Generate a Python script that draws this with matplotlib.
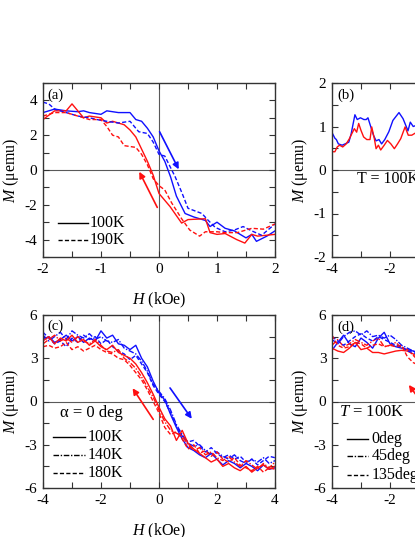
import numpy as np
import matplotlib
matplotlib.use("Agg")
import matplotlib.pyplot as plt
from matplotlib.ticker import MultipleLocator

plt.rcParams['font.family'] = ['Liberation Serif', 'DejaVu Serif']
plt.rcParams['mathtext.fontset'] = 'custom'
plt.rcParams['mathtext.rm'] = 'Liberation Serif'
plt.rcParams['mathtext.it'] = 'Liberation Serif:italic'
plt.rcParams['axes.unicode_minus'] = False

# ------------ data ------------

# panel (a): T = 100K (solid) and 190K (dashed)
a_H_blue_100 = [-2.0, -1.8, -1.6, -1.4, -1.3, -1.2, -1.0, -0.9, -0.7, -0.5, -0.4, -0.3, -0.2, -0.1,
                0.0, 0.1, 0.2, 0.3, 0.45, 0.6, 0.8, 0.88, 1.0, 1.14, 1.3, 1.5, 1.6, 1.68, 1.86, 2.0]
a_M_blue_100 = [3.3, 3.5, 3.4, 3.35, 3.4, 3.3, 3.2, 3.4, 3.3, 3.3, 2.9, 2.8, 2.4, 1.9,
                1.1, 0.5, -0.4, -1.5, -2.5, -2.7, -2.9, -3.25, -3.0, -3.35, -3.5, -3.9, -3.7, -4.1, -3.8, -3.5]
a_H_red_100 = [-2.0, -1.8, -1.6, -1.5, -1.3, -1.2, -1.0, -0.9, -0.8, -0.6, -0.5, -0.4, -0.3, -0.2,
               -0.1, 0.0, 0.19, 0.39, 0.5, 0.8, 0.88, 1.0, 1.14, 1.34, 1.48, 1.6, 1.7, 2.0]
a_M_red_100 = [2.9, 3.4, 3.4, 3.8, 3.0, 3.1, 3.0, 2.7, 2.8, 2.6, 2.3, 1.9, 1.2, 0.5,
               -0.3, -1.35, -2.1, -3.05, -2.85, -2.8, -3.6, -3.7, -3.65, -4.0, -4.2, -3.7, -3.8, -3.7]
a_H_blue_190 = [-2.0, -1.9, -1.8, -1.6, -1.4, -1.2, -1.0, -0.9, -0.7, -0.5, -0.35, -0.2, -0.1, 0.0,
                0.1, 0.28, 0.4, 0.5, 0.74, 0.85, 0.97, 1.14, 1.3, 1.45, 1.6, 1.77, 2.0]
a_M_blue_190 = [3.9, 3.8, 3.5, 3.3, 3.1, 3.0, 2.85, 2.8, 2.7, 2.8, 2.2, 2.1, 1.6, 0.9,
                0.8, -0.4, -1.35, -2.2, -2.5, -2.9, -3.3, -3.55, -3.45, -3.25, -3.5, -3.75, -3.1]
a_H_red_190 = [-2.0, -1.8, -1.6, -1.4, -1.2, -1.0, -0.9, -0.8, -0.7, -0.6, -0.4, -0.3, -0.2, -0.1,
               0.0, 0.1, 0.22, 0.39, 0.53, 0.7, 0.8, 1.0, 1.14, 1.35, 1.6, 1.8, 2.0]
a_M_red_190 = [3.1, 3.3, 3.3, 3.1, 2.9, 2.9, 2.5, 2.0, 1.9, 1.4, 1.3, 0.9, 0.3, -0.5,
               -0.9, -1.15, -1.9, -2.8, -3.45, -3.8, -3.55, -3.55, -3.6, -3.6, -3.35, -3.4, -3.1]

# panel (b): T = 100K
b_H_blue = [-4.0, -3.9, -3.85, -3.78, -3.65, -3.55, -3.42, -3.34, -3.21, -3.13, -3.02, -2.9, -2.82, -2.76,
            -2.68, -2.57, -2.48, -2.38, -2.29, -2.18, -2.04, -1.9, -1.69, -1.55, -1.38, -1.3, -1.2, -1.0]
b_M_blue = [0.86, 0.73, 0.7, 0.6, 0.57, 0.6, 0.64, 0.83, 1.27, 1.16, 1.2, 1.16, 1.16, 1.2,
            1.03, 0.8, 0.67, 0.7, 0.6, 0.7, 0.88, 1.14, 1.32, 1.18, 0.9, 1.1, 1.0, 1.05]
b_H_red = [-4.0, -3.9, -3.82, -3.74, -3.63, -3.51, -3.4, -3.32, -3.23, -3.15, -3.08, -3.0, -2.91, -2.8, -2.69,
           -2.63, -2.54, -2.48, -2.4, -2.32, -2.2, -2.09, -1.97, -1.85, -1.74, -1.63, -1.48, -1.37, -1.25, -1.0]
b_M_red = [0.42, 0.42, 0.53, 0.57, 0.53, 0.6, 0.72, 0.83, 0.95, 0.87, 1.07, 0.91, 0.76, 0.7, 0.7,
           0.99, 0.72, 0.49, 0.57, 0.46, 0.57, 0.68, 0.6, 0.49, 0.6, 0.72, 0.99, 0.8, 0.8, 0.9]

# panel (c): alpha = 0 deg, 100K / 140K / 180K
c_H = [-4.0, -3.8, -3.6, -3.4, -3.2, -3.0, -2.8, -2.6, -2.4, -2.2, -2.0, -1.8, -1.6, -1.4,
       -1.2, -1.0, -0.8, -0.6, -0.4, -0.2, 0.0, 0.2, 0.4, 0.6, 0.8, 1.0, 1.2, 1.4, 1.6, 1.8,
       2.0, 2.2, 2.4, 2.6, 2.8, 3.0, 3.2, 3.4, 3.6, 3.8, 4.0]
c_blue_100 = [4.3, 4.5, 4.1, 4.3, 4.6, 4.2, 4.5, 4.1, 4.4, 4.2, 4.9, 4.4, 4.6, 4.0,
              3.9, 3.6, 3.9, 3.0, 2.4, 1.4, 0.6, 0.1, -0.9, -1.8, -2.6, -3.2, -3.4, -3.7, -3.9, -3.6,
              -4.0, -4.4, -4.1, -4.3, -4.6, -4.3, -4.5, -4.8, -4.4, -4.7, -4.6]
c_blue_140 = [4.6, 4.2, 4.5, 4.8, 4.3, 4.9, 4.6, 4.4, 4.7, 4.3, 4.5, 4.2, 4.1, 4.3,
              3.7, 3.5, 3.3, 2.8, 2.1, 1.2, 0.7, 0.2, -0.6, -1.6, -2.3, -2.9, -3.1, -3.0, -3.4, -3.7,
              -3.5, -3.8, -4.0, -3.7, -4.1, -4.3, -4.0, -4.2, -3.9, -4.3, -4.1]
c_blue_180 = [4.8, 4.4, 4.0, 4.2, 3.8, 4.4, 4.1, 4.6, 4.3, 4.5, 4.0, 4.3, 3.8, 3.5,
              3.3, 2.9, 3.2, 2.6, 2.0, 1.1, 0.5, 0.0, -0.8, -1.7, -2.4, -2.8, -2.7, -3.1, -3.5, -3.2,
              -3.6, -3.9, -3.7, -4.0, -3.8, -4.2, -4.0, -4.4, -4.1, -3.8, -3.9]
c_red_100 = [4.2, 4.5, 4.0, 4.4, 4.2, 4.6, 4.1, 4.3, 3.9, 4.2, 3.8, 3.6, 3.9, 3.4,
             3.2, 3.0, 2.6, 2.0, 1.3, 0.5, -0.4, -1.2, -1.7, -2.7, -2.0, -2.9, -3.3, -3.6, -3.9, -4.2,
             -4.0, -4.5, -4.3, -4.6, -4.8, -4.5, -4.9, -4.6, -4.4, -4.7, -4.5]
c_red_140 = [4.0, 4.3, 4.6, 4.2, 4.4, 4.1, 4.5, 4.2, 4.0, 4.3, 3.9, 3.5, 3.4, 3.6,
             3.0, 2.7, 2.3, 1.7, 1.0, 0.3, -0.6, -1.4, -2.0, -2.2, -2.4, -3.0, -3.4, -3.2, -3.7, -3.5,
             -3.9, -4.1, -3.8, -4.2, -4.5, -4.1, -4.4, -4.7, -4.3, -4.6, -4.2]
c_red_180 = [3.8, 3.9, 3.7, 3.8, 4.1, 3.6, 3.8, 3.5, 3.7, 3.9, 3.6, 3.4, 3.3, 3.0,
             2.9, 2.5, 2.0, 1.5, 0.8, 0.0, -0.8, -1.8, -2.3, -2.1, -2.6, -3.3, -3.0, -3.6, -3.4, -3.8,
             -3.5, -4.0, -4.2, -3.9, -4.4, -4.6, -4.8, -4.5, -4.9, -4.6, -4.7]

# panel (d): T = 100K, 0 / 45 / 135 deg (only the left part is visible)
d_H = [-4.0, -3.8, -3.6, -3.4, -3.2, -3.0, -2.8, -2.6, -2.4, -2.2, -2.0, -1.8, -1.6, -1.4, -1.2, -1.0]
d_blue_0 = [3.55, 4.1, 4.6, 4.0, 3.8, 4.4, 4.1, 3.7, 4.4, 4.8, 4.0, 3.8, 3.7, 3.6, 3.5, 3.3]
d_red_0 = [3.7, 3.5, 3.4, 3.7, 4.1, 3.6, 3.7, 3.4, 3.4, 3.3, 3.4, 3.5, 3.55, 3.5, 3.3, 3.0]
d_blue_45 = [4.3, 4.0, 4.5, 4.8, 4.9, 4.6, 4.9, 4.5, 4.6, 4.4, 4.6, 4.3, 3.9, 3.7, 3.5, 3.4]
d_red_45 = [3.9, 4.3, 3.8, 4.0, 4.3, 4.1, 3.9, 4.2, 4.4, 3.8, 3.9, 4.1, 3.7, 3.6, 3.2, 2.8]
d_blue_135 = [4.5, 4.2, 3.9, 4.2, 4.5, 4.7, 4.4, 4.2, 4.5, 4.3, 4.1, 3.9, 3.8, 3.5, 3.4, 3.2]
d_red_135 = [4.6, 3.9, 3.7, 3.8, 4.1, 4.0, 3.7, 3.9, 4.0, 3.8, 3.9, 3.8, 3.9, 3.1, 2.7, 2.5]

# ------------ styling helpers ------------

BLUE = '#1010ff'
RED = '#ff1010'
DASH = (0, (3, 1.6))
DASHDOT = (0, (4, 1.2, 1, 1.2))
LW = 1.0
FS = 10.5


def style_axes(ax, xlim, ylim, xmaj, xmin, ymaj, ymin):
    ax.set_xlim(*xlim)
    ax.set_ylim(*ylim)
    ax.xaxis.set_major_locator(MultipleLocator(xmaj))
    ax.xaxis.set_minor_locator(MultipleLocator(xmin))
    ax.yaxis.set_major_locator(MultipleLocator(ymaj))
    ax.yaxis.set_minor_locator(MultipleLocator(ymin))
    ax.tick_params(which='both', direction='in', top=True, right=True,
                   labelsize=FS + 0.5, color='0.2', width=0.8)
    ax.tick_params(which='major', length=4.5, pad=4)
    ax.tick_params(which='minor', length=4.5)
    for s in ax.spines.values():
        s.set_linewidth(1.0)
        s.set_color('0.2')
    ax.axhline(0, color='0.35', lw=0.8, zorder=1)
    ax.axvline(0, color='0.35', lw=0.8, zorder=1)
    ax.set_xlabel('$H$ (kOe)', fontsize=11.5, labelpad=11)
    ax.set_ylabel('$M$ (\u03bcemu)', fontsize=11.5, labelpad=3)


def arrow(ax, start, end, color):
    ax.annotate('', xy=end, xytext=start,
                arrowprops=dict(arrowstyle='-|>', color=color, lw=1.2,
                                mutation_scale=9, shrinkA=0, shrinkB=0))


fig = plt.figure(figsize=(4.15, 5.37), dpi=100)
W = 232 / 415
ax_a = fig.add_axes([43 / 415, 280 / 537, W, 174 / 537])
ax_b = fig.add_axes([332 / 415, 280 / 537, W, 174 / 537])
ax_c = fig.add_axes([43 / 415, 49 / 537, W, 173 / 537])
ax_d = fig.add_axes([332 / 415, 49 / 537, W, 173 / 537])

# ------------ panel (a) ------------
ax = ax_a
style_axes(ax, (-2, 2), (-5, 5), 1, 0.5, 2, 1)
ax.plot(a_H_blue_100, a_M_blue_100, color=BLUE, lw=LW)
ax.plot(a_H_red_100, a_M_red_100, color=RED, lw=LW)
ax.plot(a_H_blue_190, a_M_blue_190, color=BLUE, lw=LW, linestyle=DASH)
ax.plot(a_H_red_190, a_M_red_190, color=RED, lw=LW, linestyle=DASH)
arrow(ax, (0.01, 2.2), (0.34, 0.04), BLUE)
arrow(ax, (-0.03, -2.15), (-0.34, -0.1), RED)
ax.plot([-1.74, -1.22], [-3.04, -3.04], color='k', lw=LW)
ax.plot([-1.74, -1.22], [-4.04, -4.04], color='k', lw=LW, linestyle=DASH)
ax.text(-1.19, -3.04, '100K', fontsize=FS + 1, va='center')
ax.text(-1.19, -4.04, '190K', fontsize=FS + 1, va='center')
ax.text(-1.92, 4.3, '(a)', fontsize=FS, va='center')

# ------------ panel (b) ------------
ax = ax_b
style_axes(ax, (-4, 4), (-2, 2), 2, 1, 1, 0.5)
ax.plot(b_H_blue, b_M_blue, color=BLUE, lw=LW)
ax.plot(b_H_red, b_M_red, color=RED, lw=LW)
ax.text(-3.14, -0.2, 'T = 100K', fontsize=FS + 1, va='center')
ax.text(-3.82, 1.72, '(b)', fontsize=FS, va='center')

# ------------ panel (c) ------------
ax = ax_c
style_axes(ax, (-4, 4), (-6, 6), 2, 1, 3, 1.5)
ax.plot(c_H, c_blue_100, color=BLUE, lw=LW)
ax.plot(c_H, c_blue_140, color=BLUE, lw=LW, linestyle=DASHDOT)
ax.plot(c_H, c_blue_180, color=BLUE, lw=LW, linestyle=DASH)
ax.plot(c_H, c_red_100, color=RED, lw=LW)
ax.plot(c_H, c_red_140, color=RED, lw=LW, linestyle=DASHDOT)
ax.plot(c_H, c_red_180, color=RED, lw=LW, linestyle=DASH)
arrow(ax, (0.38, 0.94), (1.13, -1.2), BLUE)
arrow(ax, (-0.2, -1.24), (-0.91, 0.92), RED)
ax.text(-3.41, -0.82, '\u03b1 = 0 deg', fontsize=FS + 1.5, va='center')
for m, ls, lab in [(-2.44, '-', '100K'), (-3.7, DASHDOT, '140K'), (-4.94, DASH, '180K')]:
    ax.plot([-3.66, -2.55], [m, m], color='k', lw=LW, linestyle=ls)
    ax.text(-2.45, m, lab, fontsize=FS + 1, va='center')
ax.text(-3.84, 5.25, '(c)', fontsize=FS, va='center')

# ------------ panel (d) ------------
ax = ax_d
style_axes(ax, (-4, 4), (-6, 6), 2, 1, 3, 1.5)
ax.plot(d_H, d_blue_0, color=BLUE, lw=LW)
ax.plot(d_H, d_red_0, color=RED, lw=LW)
ax.plot(d_H, d_blue_45, color=BLUE, lw=LW, linestyle=DASHDOT)
ax.plot(d_H, d_red_45, color=RED, lw=LW, linestyle=DASHDOT)
ax.plot(d_H, d_blue_135, color=BLUE, lw=LW, linestyle=DASH)
ax.plot(d_H, d_red_135, color=RED, lw=LW, linestyle=DASH)
arrow(ax, (-0.5, -1.2), (-1.35, 1.15), RED)
ax.text(-3.75, -0.75, '$T$ = 100K', fontsize=FS + 1.5, va='center')
for m, ls, lab in [(-2.58, '-', '0deg'), (-3.78, DASHDOT, '45deg'), (-5.08, DASH, '135deg')]:
    ax.plot([-3.49, -2.75], [m, m], color='k', lw=LW, linestyle=ls)
    ax.text(-2.63, m, lab, fontsize=FS + 1, va='center')
ax.text(-3.82, 5.17, '(d)', fontsize=FS, va='center')

fig.savefig('out.png', dpi=100)
